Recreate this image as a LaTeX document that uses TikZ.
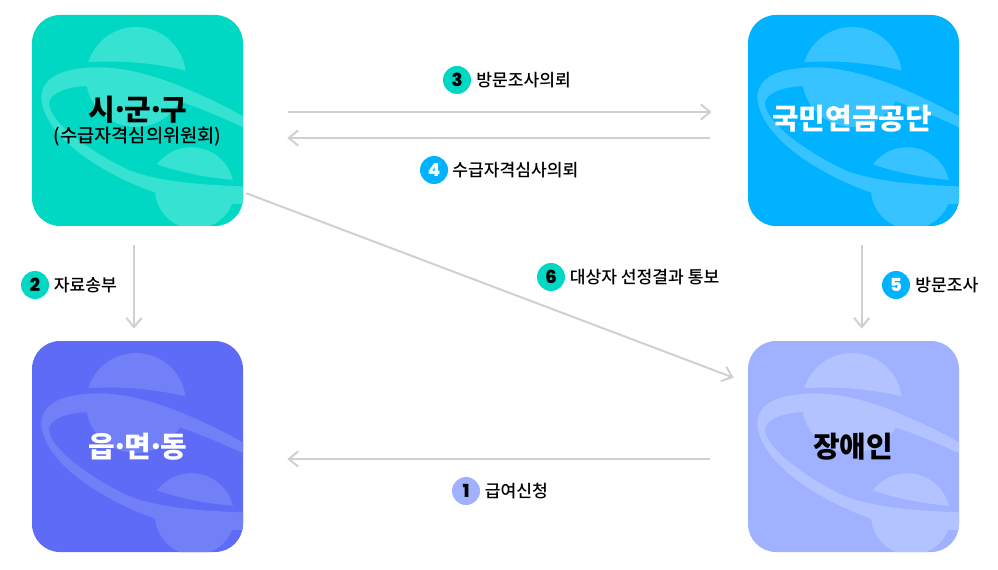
\documentclass[tikz,border=0pt]{standalone}
\usepackage{fontspec}
\usetikzlibrary{arrows.meta}
\setmainfont{Noto Sans CJK KR Medium}
\newfontfamily\titlefont{Noto Sans CJK KR Black}
\newfontfamily\numfont{Poppins ExtraBold}
\definecolor{teal}{HTML}{00D8C3}
\definecolor{teallt}{HTML}{36E2D1}
\definecolor{skyb}{HTML}{00B2FF}
\definecolor{skyblt}{HTML}{36C3FF}
\definecolor{viol}{HTML}{5D6BF6}
\definecolor{viollt}{HTML}{7280F7}
\definecolor{peri}{HTML}{9FB1FF}
\definecolor{perilt}{HTML}{B3C3FF}
\definecolor{linegray}{HTML}{D0D0D0}
\tikzset{
  panel/.style={rectangle,rounded corners=21pt,minimum size=158.25pt,inner sep=0,fill=#1},
  conn/.style={draw=linegray,line width=1.5pt,-{Straight Barb[length=7pt,width=11.5pt,line width=1.5pt]}},
  badge/.style={circle,minimum size=21pt,inner sep=0,fill=#1,font=\numfont\fontsize{13.5pt}{13.5pt}\selectfont},
  lbl/.style={anchor=west,inner sep=0,text=black,font=\fontsize{12.85pt}{14pt}\selectfont},
  titlew/.style={inner sep=0,text=white,font=\titlefont\fontsize{21.7pt}{24pt}\selectfont},
  titlek/.style={inner sep=0,text=black,font=\titlefont\fontsize{21.7pt}{24pt}\selectfont},
  subt/.style={inner sep=0,text=black,font=\fontsize{14pt}{16pt}\selectfont}
}
\newcommand{\ringouter}{(9.3,84) .. controls (9,62) and (30,53) .. (65,52.5) .. controls (110,52) and (165,75) .. (225,109) -- (225,188) -- (199,189.3) .. controls (170,188) and (145,185) .. (123.7,177.7) .. controls (85,165) and (14,128) .. (9.3,84) -- cycle}
\newcommand{\ringinner}{(17,88) .. controls (18,78) and (35,71) .. (60,71) .. controls (100,70) and (150,82) .. (225,119) -- (225,172) .. controls (175,170) and (130,168) .. (96.7,155) .. controls (62,139) and (17,108) .. (17,88) -- cycle}
\newcommand{\planetdeco}[2]{%
  \begin{scope}[shift={(#1)}]
    \clip[rounded corners=21pt] (0,0) rectangle (211,211);
    \begin{scope}
      \clip (104,62) circle[radius=50];
      \fill[#2] (40,49) .. controls (75,44) and (125,46) .. (170,60) -- (170,0) -- (40,0) -- cycle;
      \clip \ringouter;
      \fill[#2] (40,30) rectangle (170,130);
    \end{scope}
    \begin{scope}
      \clip (159.3,175) circle[radius=42.8];
      \fill[#2] (110,143) .. controls (135,155) and (170,163) .. (215,166) -- (215,120) -- (110,120) -- cycle;
    \end{scope}
    \begin{scope}
      \clip (100,172) rectangle (220,220);
      \fill[#2] (163,174) circle[radius=40];
    \end{scope}
    \fill[#2,even odd rule] \ringouter \ringinner;
  \end{scope}}
\begin{document}
\begin{tikzpicture}[x=.75pt,y=-.75pt]
\useasboundingbox (0,0) rectangle (998,570);
% panels
\node[panel=teal] (sigungu) at (137.5,120.5) {};
\node[panel=skyb] (nps) at (853.5,120.5) {};
\node[panel=viol] (town) at (137.5,446.5) {};
\node[panel=peri] (person) at (853.5,446.5) {};
\planetdeco{32,15}{teallt}
\planetdeco{748,15}{skyblt}
\planetdeco{32,341}{viollt}
\planetdeco{748,341}{perilt}
% panel texts
\node[titlek] (t1) at (138,110) {시\kern-.14em·\kern-.14em군\kern-.14em·\kern-.14em구};
\node[subt] (t1b) at (137.5,137) {(수급자격심의위원회)};
\node[titlew] (t2) at (852,119) {국민연금공단};
\node[titlew] (t3) at (138,447) {읍\kern-.14em·\kern-.14em면\kern-.14em·\kern-.14em동};
\node[titlek] (t4) at (853,447) {장애인};
% connectors
\draw[conn] ([shift={(45,-8.5)}]sigungu.east) -- ([shift={(-36,-8.5)}]nps.west);
\draw[conn] ([shift={(-38,17.5)}]nps.west) -- ([shift={(44,17.5)}]sigungu.east);
\draw[conn] ([shift={(-3.5,19)}]sigungu.south) -- ([shift={(-3.5,-12)}]town.north);
\draw[conn] ([shift={(8.2,19)}]nps.south) -- ([shift={(8.2,-12)}]person.north);
\draw[conn] ([shift={(3,-33)}]sigungu.south east) -- ([shift={(-14,37)}]person.north west);
\draw[conn] ([shift={(-38,12.5)}]person.west) -- ([shift={(44,12.5)}]town.east);
% badges and labels
\node[badge=teal,text=black] (b3) at (457,80) {3};
\node[lbl] (l3) at (476,80.5) {방문조사의뢰};
\node[badge=skyb,text=white] (b4) at (434,170) {4};
\node[lbl] (l4) at (452,170.5) {수급자격심사의뢰};
\node[badge=teal,text=black] (b2) at (35,285) {2};
\node[lbl] (l2) at (53.5,285.5) {자료송부};
\node[badge=teal,text=black] (b6) at (551,277) {6};
\node[lbl] (l6) at (569.5,277.5) {대상자 선정결과 통보};
\node[badge=skyb,text=white] (b5) at (896,285) {5};
\node[lbl] (l5) at (915,285.5) {방문조사};
\node[badge=peri,text=black] (b1) at (466,491) {1};
\node[lbl] (l1) at (484.5,491.5) {급여신청};
\end{tikzpicture}
\end{document}
